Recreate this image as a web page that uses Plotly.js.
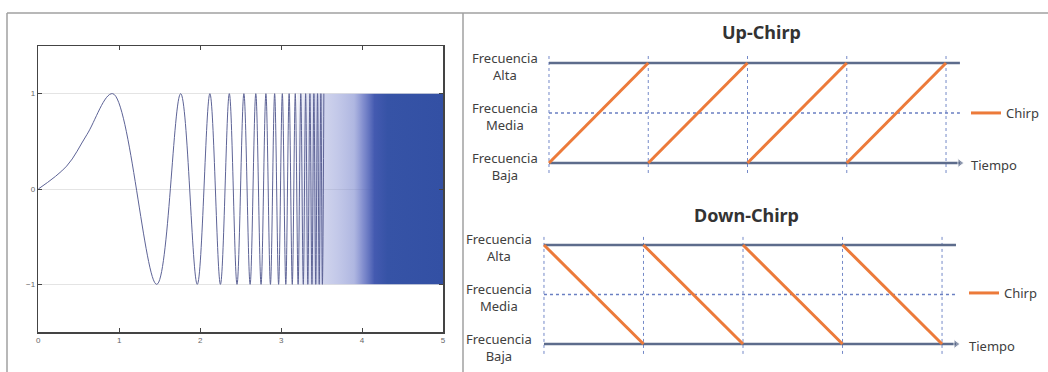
<!DOCTYPE html>
<html><head><meta charset="utf-8">
<script src="https://cdn.plot.ly/plotly-3.0.1.min.js"></script>
<style>html,body{margin:0;padding:0;background:#fff}#c{width:1048px;height:372px}</style>
</head><body><div id="c"></div>
<script>
// ---- Left panel: chirp signal (extrema) ----
const chirpX = [0, 0.35, 0.6, 0.919, 1.463, 1.759, 1.964, 2.120, 2.250, 2.360, 2.455, 2.540, 2.617, 2.687, 2.752, 2.812, 2.868, 2.920, 2.969, 3.015, 3.058, 3.099, 3.138, 3.175, 3.210, 3.243, 3.274, 3.303, 3.330, 3.356, 3.381, 3.405, 3.428, 3.450, 3.471, 3.491, 3.510, 3.528];
const chirpY = [0, 0.24, 0.57, 1, -1, 1, -1, 1, -1, 1, -1, 1, -1, 1, -1, 1, -1, 1, -1, 1, -1, 1, -1, 1, -1, 1, -1, 1, -1, 1, -1, 1, -1, 1, -1, 1, -1, 1];
// dense (unresolvable) part of the chirp: envelope
const denseX = [3.2, 5];
const denseHi = [1, 1];
const denseLo = [-1, -1];
const chirpXTicks = [0, 1, 2, 3, 4, 5];
const chirpYTicks = [-1, 0, 1];

// ---- Right panels: up / down chirp diagrams ----
const levelVals = [0, 0.5, 1];
const levelLabels = ["Frecuencia<br>Baja", "Frecuencia<br>Media", "Frecuencia<br>Alta"];
const periodStart = [0, 1, 2, 3];
const periodEnd = [1, 2, 3, 4];
const upFrom = [0, 0, 0, 0];
const upTo = [1, 1, 1, 1];
const downFrom = [1, 1, 1, 1];
const downTo = [0, 0, 0, 0];
const timeMarks = [0, 1, 2, 3, 4];
const timeAxisEnd = 4.14;
const seriesName = "Chirp";
const timeLabel = "Tiempo";
const titles = ["Up-Chirp", "Down-Chirp"];

const W = 1048, H = 372;
const px = v => v / W, py = v => 1 - v / H;

function ramps(from, to) {
  const x = [], y = [];
  periodStart.forEach((s, i) => { x.push(s, periodEnd[i], null); y.push(from[i], to[i], null); });
  return {x, y};
}
function verticals() {
  const x = [], y = [];
  timeMarks.forEach(t => { x.push(t, t, null); y.push(-0.1, 1.1, null); });
  return {x, y};
}

const LVL = '#5d6c8c', ORANGE = '#ec7a3a', DOT = '#7489c8';
const FONT = 'Noto Sans', TXT = '#404040';
const traces = [];

// left chirp
traces.push({
  x: denseX.concat(denseX.slice().reverse()),
  y: denseHi.concat(denseLo.slice().reverse()),
  xaxis: 'x', yaxis: 'y', mode: 'lines', fill: 'toself', line: {width: 0},
  fillgradient: {type: 'horizontal', start: 3.2, stop: 5,
    colorscale: [[0, 'rgba(170,176,222,0.15)'], [0.14, 'rgba(155,163,216,0.42)'], [0.28, 'rgba(145,155,214,0.55)'],
                 [0.39, 'rgba(130,142,208,0.64)'], [0.45, 'rgba(100,115,195,0.8)'], [0.53, 'rgb(68,90,176)'], [0.62, '#3653a6'], [1, '#3350a4']]},
  showlegend: false, hoverinfo: 'skip'
});
traces.push({
  x: chirpX, y: chirpY, xaxis: 'x', yaxis: 'y', mode: 'lines',
  line: {color: '#5d6396', width: 1, shape: 'spline', smoothing: 1},
  showlegend: false, hoverinfo: 'skip'
});

function diagram(xa, ya, from, to, legendId) {
  const v = verticals();
  traces.push({x: v.x, y: v.y, xaxis: xa, yaxis: ya, mode: 'lines', line: {color: DOT, width: 1, dash: 'dot'}, showlegend: false, hoverinfo: 'skip'});
  traces.push({x: [0, timeAxisEnd], y: [levelVals[1], levelVals[1]], xaxis: xa, yaxis: ya, mode: 'lines', line: {color: '#6a7fc2', width: 1.6, dash: 'dot'}, showlegend: false, hoverinfo: 'skip'});
  traces.push({x: [0, timeAxisEnd], y: [levelVals[2], levelVals[2]], xaxis: xa, yaxis: ya, mode: 'lines', line: {color: LVL, width: 2.5}, showlegend: false, hoverinfo: 'skip'});
  traces.push({x: [0, timeAxisEnd], y: [levelVals[0], levelVals[0]], xaxis: xa, yaxis: ya, mode: 'lines+markers', line: {color: LVL, width: 2.5},
    marker: {symbol: 'triangle-right', size: [0, 8], color: LVL}, showlegend: false, hoverinfo: 'skip'});
  const r = ramps(from, to);
  traces.push({x: r.x, y: r.y, xaxis: xa, yaxis: ya, mode: 'lines', name: seriesName, line: {color: ORANGE, width: 3}, legend: legendId, showlegend: true, hoverinfo: 'skip'});
}
diagram('x2', 'y2', upFrom, upTo, 'legend');
diagram('x3', 'y3', downFrom, downTo, 'legend2');

const hidden = {showgrid: false, zeroline: false, showline: false, showticklabels: false, ticks: ''};
const annotations = [];
levelVals.forEach((v, i) => {
  annotations.push({xref: 'paper', yref: 'y2', x: px(505), y: v, yshift: -3, text: levelLabels[i], showarrow: false, xanchor: 'center', yanchor: 'middle', align: 'center', font: {family: FONT, size: 13, color: TXT}});
  annotations.push({xref: 'paper', yref: 'y3', x: px(499), y: v, yshift: -3, text: levelLabels[i], showarrow: false, xanchor: 'center', yanchor: 'middle', align: 'center', font: {family: FONT, size: 13, color: TXT}});
});
annotations.push({xref: 'paper', yref: 'y2', x: px(969), y: levelVals[0], yshift: -2, text: timeLabel, showarrow: false, xanchor: 'left', yanchor: 'middle', font: {family: FONT, size: 13, color: TXT}});
annotations.push({xref: 'paper', yref: 'y3', x: px(967), y: levelVals[0], yshift: -2, text: timeLabel, showarrow: false, xanchor: 'left', yanchor: 'middle', font: {family: FONT, size: 13, color: TXT}});
annotations.push({xref: 'paper', yref: 'paper', x: px(761), y: py(32), text: '<b>' + titles[0] + '</b>', showarrow: false, xanchor: 'center', yanchor: 'middle', font: {family: FONT, size: 18, color: '#333'}});
annotations.push({xref: 'paper', yref: 'paper', x: px(746), y: py(215), text: '<b>' + titles[1] + '</b>', showarrow: false, xanchor: 'center', yanchor: 'middle', font: {family: FONT, size: 18, color: '#333'}});

const frame = {type: 'line', xref: 'paper', yref: 'paper', line: {color: '#a0a0a0', width: 1.5}};
const layout = {
  width: W, height: H, margin: {l: 0, r: 0, t: 0, b: 0},
  paper_bgcolor: '#fff', plot_bgcolor: 'rgba(0,0,0,0)',
  xaxis: {domain: [px(38.3), px(443)], range: [0, 5], tickvals: chirpXTicks, ticks: 'inside', ticklen: 4, tickcolor: '#444',
    showline: true, linecolor: '#444', linewidth: 1.5, mirror: 'allticks', showgrid: false, zeroline: false,
    tickfont: {family: 'Liberation Sans', size: 8, color: '#666'}, anchor: 'y'},
  yaxis: {domain: [py(332), py(46)], range: [-1.5, 1.5], tickvals: chirpYTicks, ticks: 'inside', ticklen: 4, tickcolor: '#444',
    showline: true, linecolor: '#444', linewidth: 1.5, mirror: 'allticks', showgrid: true, gridcolor: '#e4e4e4', zeroline: false,
    tickfont: {family: 'Liberation Sans', size: 8, color: '#666'}, anchor: 'x'},
  xaxis2: Object.assign({domain: [px(544.04), px(975.8)], range: [-0.05, 4.3], anchor: 'y2'}, hidden),
  yaxis2: Object.assign({domain: [py(175), py(51)], range: [-0.12, 1.12], anchor: 'x2'}, hidden),
  xaxis3: Object.assign({domain: [px(539), px(971.9)], range: [-0.05, 4.3], anchor: 'y3'}, hidden),
  yaxis3: Object.assign({domain: [py(355.9), py(233.1)], range: [-0.12, 1.12], anchor: 'x3'}, hidden),
  legend: {x: px(966), y: py(113), xanchor: 'left', yanchor: 'middle', bgcolor: 'rgba(0,0,0,0)', itemwidth: 30, font: {family: FONT, size: 13, color: TXT}},
  legend2: {x: px(964), y: py(293), xanchor: 'left', yanchor: 'middle', bgcolor: 'rgba(0,0,0,0)', itemwidth: 30, font: {family: FONT, size: 13, color: TXT}},
  annotations: annotations,
  shapes: [
    Object.assign({x0: px(7), x1: 1, y0: py(13), y1: py(13)}, frame),
    Object.assign({x0: px(7), x1: px(7), y0: py(13), y1: 0}, frame),
    Object.assign({x0: px(463), x1: px(463), y0: py(13), y1: 0}, frame)
  ]
};
Plotly.newPlot('c', traces, layout, {staticPlot: true, displayModeBar: false});
</script></body></html>
